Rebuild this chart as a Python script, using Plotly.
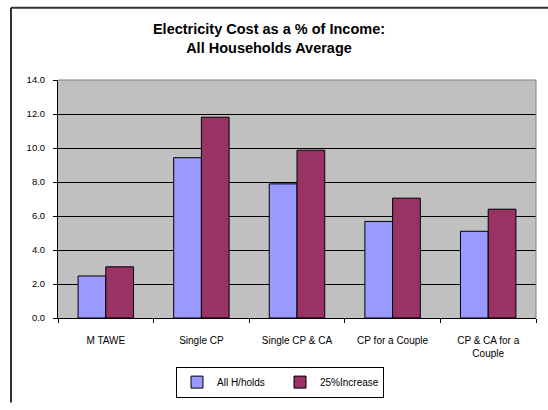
import plotly.graph_objects as go

categories = ["M TAWE", "Single CP", "Single CP & CA", "CP for a Couple", "CP & CA for a<br>Couple"]
all_households = [2.47, 9.43, 7.89, 5.68, 5.10]
increase_25 = [3.01, 11.81, 9.87, 7.05, 6.40]
series_names = ["All H/holds", "25%Increase"]
y_ticks = [0, 2, 4, 6, 8, 10, 12, 14]
y_tick_labels = ["0.0", "2.0", "4.0", "6.0", "8.0", "10.0", "12.0", "14.0"]

W, H = 548, 410
L, R, T, B = 58, 12, 80, 85
pw, ph = W - L - R, H - T - B

def px(x):
    return (x - L) / pw

def py(y):
    return (H - B - y) / ph

fig = go.Figure()
fig.add_trace(go.Bar(x=categories, y=all_households, name=series_names[0],
                     marker=dict(color="#9999FF", line=dict(color="black", width=1))))
fig.add_trace(go.Bar(x=categories, y=increase_25, name=series_names[1],
                     marker=dict(color="#993366", line=dict(color="black", width=1))))

fig.update_layout(
    width=W, height=H,
    margin=dict(l=L, r=R, t=T, b=B),
    paper_bgcolor="white",
    plot_bgcolor="#C0C0C0",
    barmode="group",
    bargap=0.42,
    bargroupgap=0,
    font=dict(family="Liberation Sans, Arial", size=9, color="black"),
    title=dict(text="<b>Electricity Cost as a % of Income:<br>All Households Average</b>",
               xref="container", x=269 / W, xanchor="center",
               yref="container", y=1 - 34 / H, yanchor="middle",
               font=dict(size=14.5, family="Liberation Sans, Arial", color="black")),
    showlegend=True,
    legend=dict(orientation="h", x=px(280), xanchor="center", y=py(391), yanchor="middle",
                bordercolor="black", borderwidth=1, bgcolor="white",
                font=dict(size=10), itemwidth=30, entrywidth=58, entrywidthmode="pixels",
                traceorder="normal"),
    xaxis=dict(showgrid=False, showline=True, linecolor="black", linewidth=1,
               ticks="outside", ticklen=4, tickcolor="black", tickson="boundaries",
               tickfont=dict(size=10), ticklabelstandoff=13),
    yaxis=dict(range=[0, 14], tickvals=y_ticks, ticktext=y_tick_labels,
               showgrid=True, gridcolor="black", gridwidth=1,
               showline=True, linecolor="black", linewidth=1,
               ticks="outside", ticklen=4, tickcolor="black", zeroline=False,
               tickfont=dict(size=9.5), ticklabelstandoff=6),
    shapes=[
        dict(type="line", xref="paper", yref="paper", x0=0, x1=1, y0=1, y1=1,
             line=dict(color="#808080", width=1)),
        dict(type="line", xref="paper", yref="paper", x0=1, x1=1, y0=0, y1=1,
             line=dict(color="#808080", width=1)),
        dict(type="line", xref="paper", yref="paper", x0=px(11), x1=px(548), y0=py(5.5), y1=py(5.5),
             line=dict(color="#303030", width=2)),
        dict(type="line", xref="paper", yref="paper", x0=px(11), x1=px(11), y0=py(5.5), y1=py(412),
             line=dict(color="#303030", width=2)),
    ],
)

fig.write_html("out.html")
